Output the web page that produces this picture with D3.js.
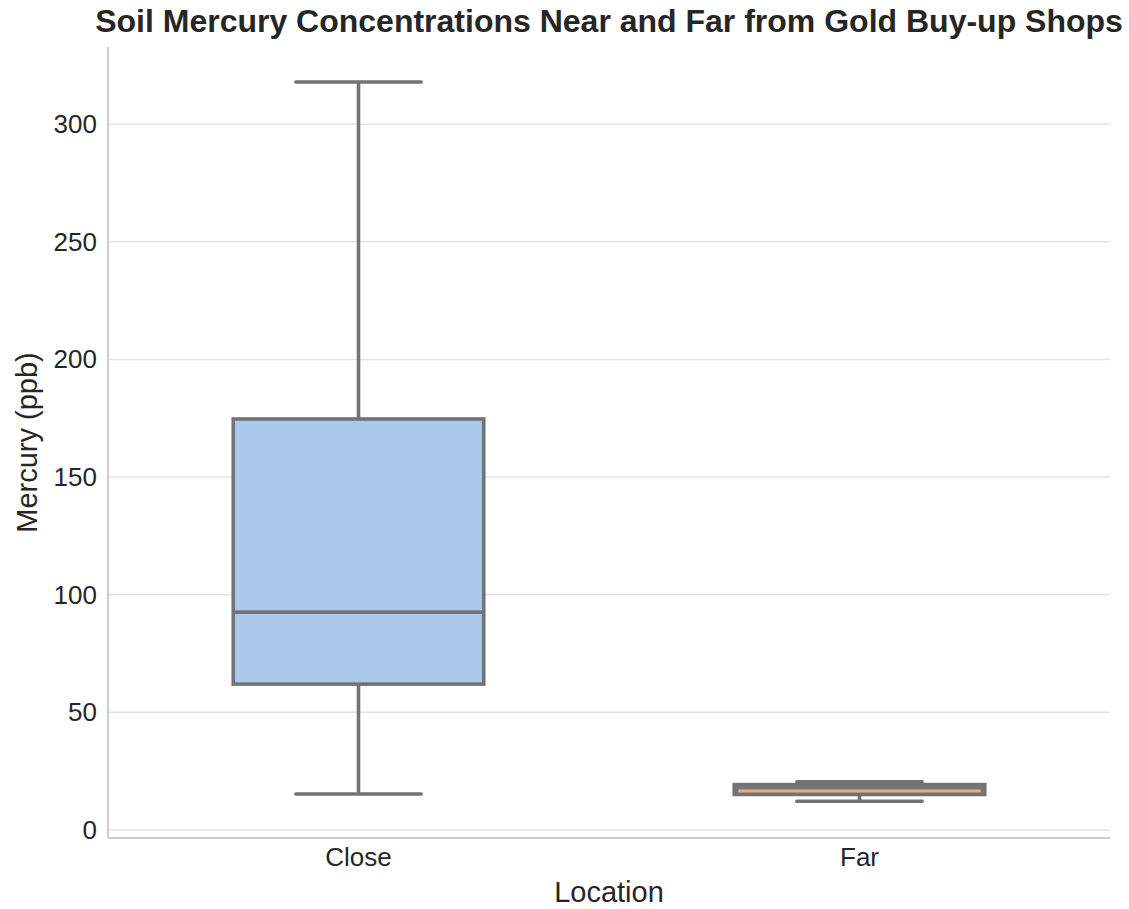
<!DOCTYPE html>
<html>
<head>
<meta charset="utf-8">
<script src="https://cdn.jsdelivr.net/npm/d3@7"></script>
<style>
  body { margin: 0; background: #fff; }
  text { font-family: "Liberation Sans", Arial, sans-serif; fill: #262626; }
</style>
</head>
<body>
<svg id="chart" width="1129" height="909"></svg>
<script>
'use strict';

// data
var arrayCategories = ['Close', 'Far'];
var arrayWhiskerLow = [15.3, 12.2];
var arrayQ1 = [62.0, 15.1];
var arrayMedian = [92.6, 16.6];
var arrayQ3 = [174.7, 19.3];
var arrayWhiskerHigh = [317.9, 20.5];
var arrayYTicks = [0, 50, 100, 150, 200, 250, 300];

// styles
var arrayFill = ['#abc9ec', '#757575'];
var arrayMedianColor = ['#737373', '#eeab82'];

var svg = d3.select('#chart');

var nLeft = 108, nRight = 1110, nTop = 47, nBottom = 838;
var strLine = '#737373';
var nLineWidth = 3.6;
var strFont = '"Liberation Sans", Arial, sans-serif';

var xScale = d3.scaleBand()
	.domain(arrayCategories)
	.range([nLeft, nRight]);

var yScale = d3.scaleLinear()
	.domain([-3.4, 332.8])
	.range([nBottom, nTop]);

// grid
svg.append('g')
	.selectAll('line')
	.data(arrayYTicks)
	.enter()
	.append('line')
	.attr('x1', nLeft)
	.attr('x2', nRight)
	.attr('y1', function(d) { return yScale(d); })
	.attr('y2', function(d) { return yScale(d); })
	.attr('stroke', '#e3e3e3')
	.attr('stroke-width', 1.5);

// spines
svg.append('line')
	.attr('x1', nLeft).attr('x2', nLeft)
	.attr('y1', nTop).attr('y2', nBottom)
	.attr('stroke', '#cccccc').attr('stroke-width', 2);
svg.append('line')
	.attr('x1', nLeft).attr('x2', nRight)
	.attr('y1', nBottom).attr('y2', nBottom)
	.attr('stroke', '#cccccc').attr('stroke-width', 2);

// y tick labels
var yAxis = svg.append('g')
	.attr('transform', 'translate(' + nLeft + ',0)')
	.call(d3.axisLeft(yScale).tickValues(arrayYTicks).tickSize(0).tickPadding(11));
yAxis.select('.domain').remove();
yAxis.selectAll('text')
	.attr('font-size', 26)
	.attr('fill', '#262626')
	.style('font-family', strFont);

// x tick labels
var xAxis = svg.append('g')
	.attr('transform', 'translate(0,' + nBottom + ')')
	.call(d3.axisBottom(xScale).tickSize(0).tickPadding(10));
xAxis.select('.domain').remove();
xAxis.selectAll('text')
	.attr('font-size', 26)
	.attr('fill', '#262626')
	.style('font-family', strFont);

// boxes
var nBoxWidth = xScale.bandwidth() * 0.5;
var nCapWidth = nBoxWidth * 0.5;

function xMid(d) { return xScale(d) + xScale.bandwidth() / 2; }

var groups = svg.selectAll('g.box')
	.data(arrayCategories)
	.enter()
	.append('g')
	.attr('class', 'box');

groups.append('line')
	.attr('x1', xMid)
	.attr('x2', xMid)
	.attr('y1', function(d, i) { return yScale(arrayWhiskerHigh[i]); })
	.attr('y2', function(d, i) { return yScale(arrayQ3[i]); })
	.attr('stroke', strLine).attr('stroke-width', nLineWidth);

groups.append('line')
	.attr('x1', xMid)
	.attr('x2', xMid)
	.attr('y1', function(d, i) { return yScale(arrayWhiskerLow[i]); })
	.attr('y2', function(d, i) { return yScale(arrayQ1[i]); })
	.attr('stroke', strLine).attr('stroke-width', nLineWidth);

groups.append('line')
	.attr('x1', function(d) { return xMid(d) - nCapWidth / 2; })
	.attr('x2', function(d) { return xMid(d) + nCapWidth / 2; })
	.attr('y1', function(d, i) { return yScale(arrayWhiskerHigh[i]); })
	.attr('y2', function(d, i) { return yScale(arrayWhiskerHigh[i]); })
	.attr('stroke', strLine).attr('stroke-width', nLineWidth).attr('stroke-linecap', 'round');

groups.append('line')
	.attr('x1', function(d) { return xMid(d) - nCapWidth / 2; })
	.attr('x2', function(d) { return xMid(d) + nCapWidth / 2; })
	.attr('y1', function(d, i) { return yScale(arrayWhiskerLow[i]); })
	.attr('y2', function(d, i) { return yScale(arrayWhiskerLow[i]); })
	.attr('stroke', strLine).attr('stroke-width', nLineWidth).attr('stroke-linecap', 'round');

groups.append('rect')
	.attr('x', function(d) { return xMid(d) - nBoxWidth / 2; })
	.attr('width', nBoxWidth)
	.attr('y', function(d, i) { return yScale(arrayQ3[i]); })
	.attr('height', function(d, i) { return yScale(arrayQ1[i]) - yScale(arrayQ3[i]); })
	.attr('fill', function(d, i) { return arrayFill[i]; })
	.attr('stroke', strLine).attr('stroke-width', nLineWidth);

groups.append('line')
	.attr('x1', function(d, i) { return xMid(d) - nBoxWidth / 2 + (i == 0 ? 0 : 4); })
	.attr('x2', function(d, i) { return xMid(d) + nBoxWidth / 2 - (i == 0 ? 0 : 4); })
	.attr('y1', function(d, i) { return yScale(arrayMedian[i]); })
	.attr('y2', function(d, i) { return yScale(arrayMedian[i]); })
	.attr('stroke', function(d, i) { return arrayMedianColor[i]; })
	.attr('stroke-width', function(d, i) { return i == 0 ? nLineWidth : 3; });

// title and axis labels
svg.append('text')
	.attr('x', (nLeft + nRight) / 2)
	.attr('y', 32)
	.attr('text-anchor', 'middle')
	.attr('font-size', 32)
	.attr('font-weight', 'bold')
	.text('Soil Mercury Concentrations Near and Far from Gold Buy-up Shops');

svg.append('text')
	.attr('x', (nLeft + nRight) / 2)
	.attr('y', 902)
	.attr('text-anchor', 'middle')
	.attr('font-size', 29)
	.text('Location');

svg.append('text')
	.attr('transform', 'translate(37,' + ((nTop + nBottom) / 2) + ') rotate(-90)')
	.attr('text-anchor', 'middle')
	.attr('font-size', 29)
	.text('Mercury (ppb)');
</script>
</body>
</html>
